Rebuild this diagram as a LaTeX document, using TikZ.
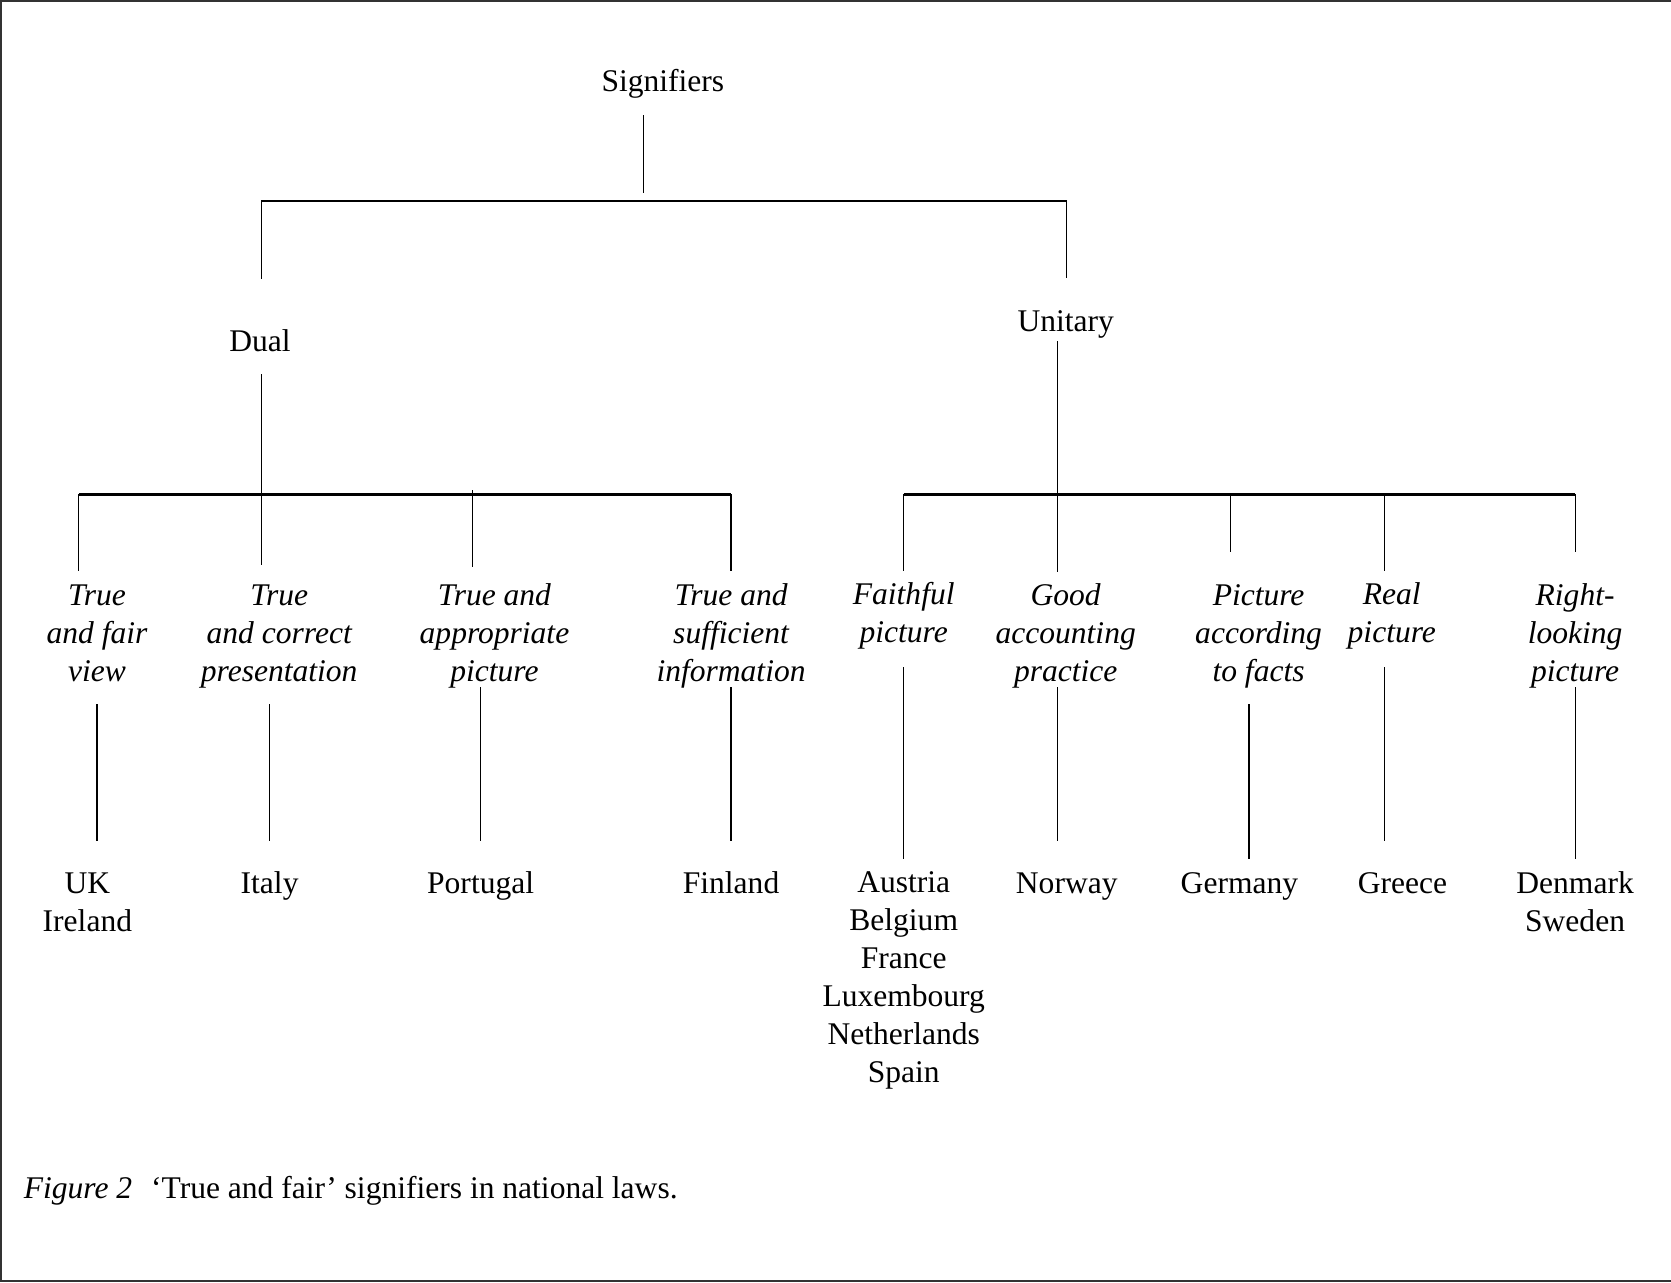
\documentclass[tikz,border=0pt]{standalone}
\usepackage{fontspec}
\setmainfont{Liberation Serif}
\begin{document}
\begin{tikzpicture}[x=0.5pt,y=-0.5pt,
  lbl/.style={inner sep=0pt,align=center,font=\fontsize{14.8}{17.75}\selectfont},
  ilbl/.style={lbl,font=\fontsize{14.8}{17.75}\selectfont\itshape},
  stem/.style={line width=0.55pt,black},
  bar/.style={line width=1pt,black},
  frame/.style={line width=1pt,black!80}]
\useasboundingbox (0,0) rectangle (1568,1203);
\draw[frame] (1568,1) -- (1,1) -- (1,1202) -- (1568,1202);

% top level
\node[lbl] (sig) at (622,79) {Signifiers};
\node[lbl] (dual) at (244,320) {Dual};
\node[lbl] (uni) at (1000,304) {Unitary};

\coordinate (sigA) at (604,108);
\coordinate (sigB) at (604,181);
\coordinate (tL) at (245,189);
\coordinate (tR) at (1001,189);
\coordinate (dualT) at (245,262);
\coordinate (uniT) at (1001,261);
\draw[stem] (sigA) -- (sigB);
\draw[bar] (tL) -- (tR);
\draw[stem] (tL) -- (dualT);
\draw[stem] (tR) -- (uniT);

% dual branch
\coordinate (dualB) at (245,351);
\coordinate (lL) at (74,464);
\coordinate (lR) at (686,464);
\draw[bar] (lL) -- (lR);
\draw[stem] (dualB) -- (245,530);
\draw[stem] (lL) -- (74,536);
\draw[stem] (443,460) -- (443,532);
\draw[stem] (lR) -- (686,536);

% unitary branch
\coordinate (uniB) at (992,320);
\coordinate (rL) at (848,464);
\coordinate (rR) at (1478,464);
\draw[bar] (rL) -- (rR);
\draw[stem] (uniB) -- (992,537);
\draw[stem] (rL) -- (848,536);
\draw[stem] (1155,464) -- (1155,518);
\draw[stem] (1299,464) -- (1299,536);
\draw[stem] (rR) -- (1478,518);

% signifier labels
\node[ilbl] (s1) at (91,594) {True\\and fair\\view};
\node[ilbl] (s2) at (262,597) {True\\and correct\\presentation};
\node[ilbl] (s3) at (464,597) {True and\\appropriate\\picture};
\node[ilbl] (s4) at (686,597) {True and\\sufficient\\information};
\node[ilbl] (s5) at (848,578) {Faithful\\picture};
\node[ilbl] (s6) at (1000,597) {Good\\accounting\\practice};
\node[ilbl] (s7) at (1181,597) {Picture\\according\\to facts};
\node[ilbl] (s8) at (1306,578) {Real\\picture};
\node[ilbl] (s9) at (1478,597) {Right-\\looking\\picture};

% countries
\node[lbl] (c1) at (82,847) {UK\\Ireland};
\node[lbl] (c2) at (253,831) {Italy};
\node[lbl] (c3) at (451,831) {Portugal};
\node[lbl] (c4) at (686,828) {Finland};
\node[lbl] (c5) at (848,920) {Austria\\Belgium\\France\\Luxembourg\\Netherlands\\Spain};
\node[lbl] (c6) at (1001,832) {Norway};
\node[lbl] (c7) at (1163,832) {Germany};
\node[lbl] (c8) at (1316,829) {Greece};
\node[lbl] (c9) at (1478,846) {Denmark\\Sweden};

% lower stems
\draw[stem] (91,661) -- (91,789);
\draw[stem] (253,661) -- (253,789);
\draw[stem] (451,645) -- (451,789);
\draw[stem] (686,645) -- (686,789);
\draw[stem] (848,626) -- (848,806);
\draw[stem] (992,645) -- (992,789);
\draw[stem] (1172,661) -- (1172,806);
\draw[stem] (1299,626) -- (1299,789);
\draw[stem] (1478,645) -- (1478,806);

% caption
\node[lbl,anchor=west] (cap) at (22,1117) {\textit{Figure 2}\hspace{0.6em}‘True and fair’ signifiers in national laws.};
\end{tikzpicture}
\end{document}
